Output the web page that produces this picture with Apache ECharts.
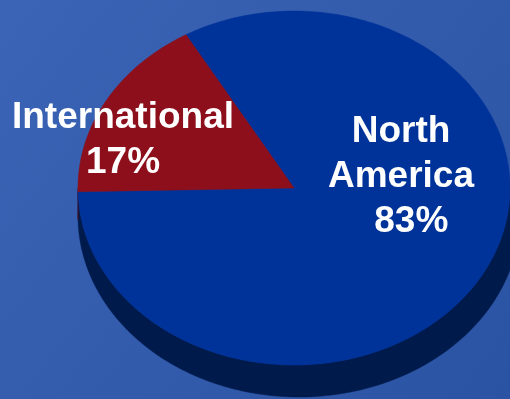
<!DOCTYPE html>
<html>
<head>
<meta charset="utf-8">
<script src="https://cdn.jsdelivr.net/npm/echarts@6/dist/echarts.min.js"></script>
<style>
  html, body { margin: 0; padding: 0; }
  #chart { width: 510px; height: 399px; }
</style>
</head>
<body>
<div id="chart"></div>
<script>
// Revenue split by region
const regions = ['North America', 'International'];
const regionLabels = ['North\nAmerica', 'International'];
const sharePct = [83, 17];
const valuePrefix = ['  ', ''];

// Styling / layout
const topColors = ['#003399', '#8c0f1b'];
const sideColors = ['#001a4c', '#4d0810'];
const labelCenters = [[401, 177], [123, 140]];
const START_ANGLE = 120;               // degrees, slices run clockwise
const topFace = { cx: 294, cy: 188, rx: 216, ry: 177 };
const baseFace = { cx: 299, cy: 216, rx: 221, ry: 181 };

function pt(face, deg) {
  const r = deg * Math.PI / 180;
  return [face.cx + face.rx * Math.cos(r), face.cy - face.ry * Math.sin(r)];
}
function arc(face, from, to) {
  const n = Math.max(2, Math.ceil(Math.abs(to - from)));
  const out = [];
  for (let k = 0; k <= n; k++) out.push(pt(face, from + (to - from) * k / n));
  return out;
}

const total = sharePct.reduce((a, b) => a + b, 0);

function renderSlice(params, api) {
  const i = params.dataIndex;
  const value = api.value(0);
  let before = 0;
  for (let j = 0; j < i; j++) before += sharePct[j];
  const a0 = START_ANGLE - 360 * before / total;
  const a1 = a0 - 360 * value / total;

  const children = [];

  // visible rim: the part of the slice that lies in the front (lower) half
  for (let k = -2; k <= 1; k++) {
    const lo = Math.max(a1, k * 360 - 180);
    const hi = Math.min(a0, k * 360);
    if (hi > lo) {
      const pts = arc(topFace, lo, hi).concat(arc(baseFace, hi, lo));
      children.push({
        type: 'polygon', z2: 1,
        shape: { points: pts },
        style: { fill: sideColors[i], stroke: sideColors[i], lineWidth: 0.5 }
      });
    }
  }

  // top face of the slice
  const topPts = [[topFace.cx, topFace.cy]].concat(arc(topFace, a0, a1));
  children.push({
    type: 'polygon', z2: 10,
    shape: { points: topPts },
    style: { fill: topColors[i], stroke: topColors[i], lineWidth: 0.5 }
  });

  // slice label
  children.push({
    type: 'text', z2: 20,
    style: {
      text: regionLabels[i] + '\n' + valuePrefix[i] + value + '%',
      x: labelCenters[i][0],
      y: labelCenters[i][1],
      fill: '#ffffff',
      fontFamily: '"Liberation Sans", Arial, sans-serif',
      fontWeight: 'bold',
      fontSize: 37,
      lineHeight: 45,
      align: 'center',
      verticalAlign: 'middle'
    }
  });

  return { type: 'group', children: children };
}

const chart = echarts.init(document.getElementById('chart'), null, { renderer: 'canvas' });
chart.setOption({
  animation: false,
  backgroundColor: {
    type: 'linear', x: 0, y: 0, x2: 1, y2: 1,
    colorStops: [
      { offset: 0, color: '#3b64b6' },
      { offset: 1, color: '#2b53a3' }
    ]
  },
  series: [{
    type: 'custom',
    coordinateSystem: 'none',
    silent: true,
    renderItem: renderSlice,
    data: sharePct.map((v, i) => ({ name: regions[i], value: [v] }))
  }]
});
</script>
</body>
</html>
